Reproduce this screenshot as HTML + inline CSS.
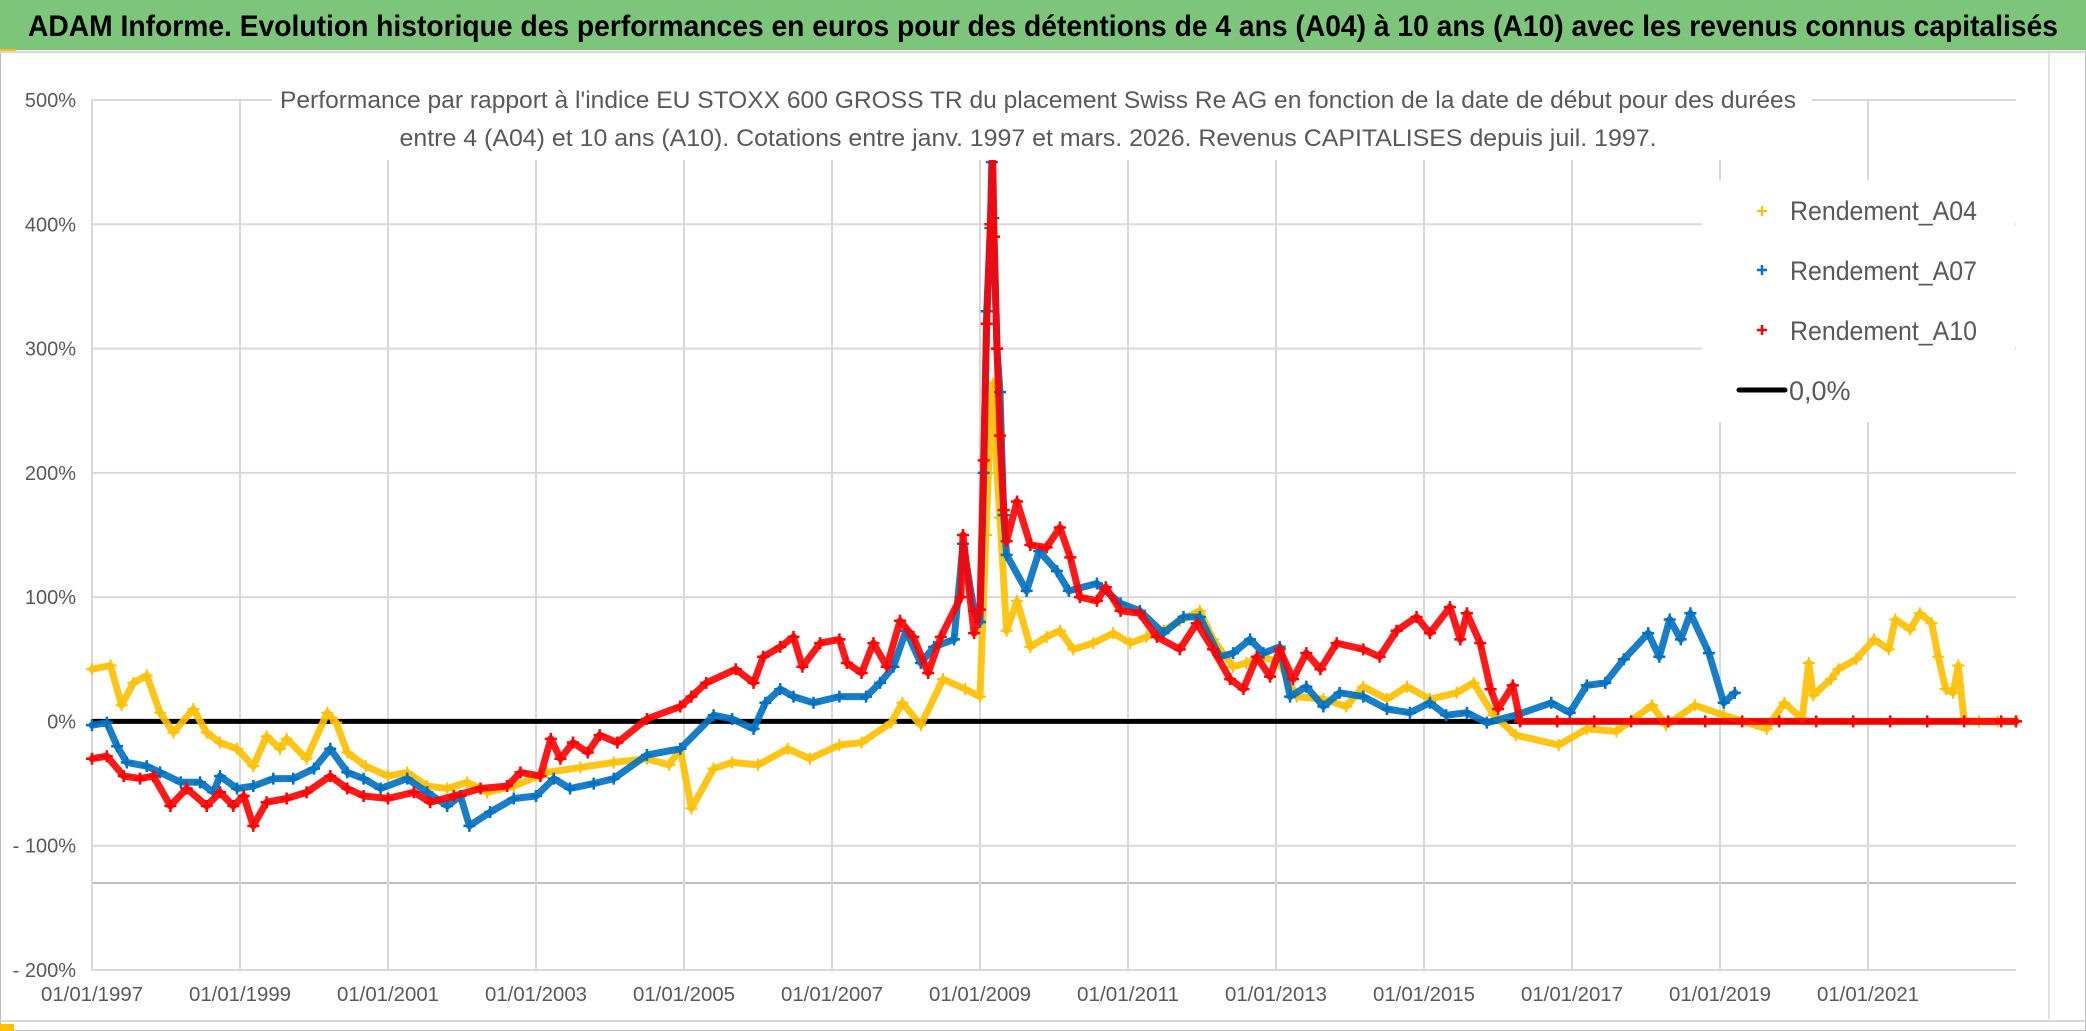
<!DOCTYPE html>
<html><head><meta charset="utf-8">
<style>
html,body{margin:0;padding:0;background:#fff;}
svg{display:block;font-family:"Liberation Sans",sans-serif;}
</style></head>
<body>
<svg id="chart" width="2086" height="1031" viewBox="0 0 2086 1031" xmlns="http://www.w3.org/2000/svg">
  <rect x="0.5" y="0.5" width="2085" height="1030" fill="#fff" stroke="#bfbfbf"/>
  <rect x="0" y="0" width="2086" height="50" fill="#7cc57a"/>
  <rect x="0" y="49" width="16" height="3" fill="#ffc000"/>
  <line x1="0" y1="52" x2="2086" y2="52" stroke="#d9d9d9" stroke-width="2"/>
  <text x="1043" y="36" text-anchor="middle" font-size="30" font-weight="bold" fill="#000" textLength="2030" lengthAdjust="spacingAndGlyphs">ADAM Informe. Evolution historique des performances en euros pour des détentions de 4 ans (A04) à 10 ans (A10) avec les revenus connus capitalisés</text>
  <line x1="2049" y1="53" x2="2049" y2="1019" stroke="#d9d9d9" stroke-width="1.5"/>
  <line x1="0" y1="1021" x2="2086" y2="1021" stroke="#d9d9d9" stroke-width="2"/>
  <rect x="0" y="1024" width="14" height="7" fill="#ffc000"/>
  <g id="grid"></g>
  <g id="axes"></g>
  <g id="series"></g>
  <rect x="272" y="84" width="1540" height="76" fill="#fff"/>
  <text x="1038" y="108" text-anchor="middle" font-size="24" fill="#595959" textLength="1516" lengthAdjust="spacingAndGlyphs">Performance par rapport à l'indice EU STOXX 600 GROSS TR  du placement Swiss Re AG en fonction de la date de début pour des durées</text>
  <text x="1028" y="146" text-anchor="middle" font-size="24" fill="#595959" textLength="1257" lengthAdjust="spacingAndGlyphs">entre 4 (A04) et 10 ans (A10). Cotations entre janv. 1997 et mars. 2026. Revenus CAPITALISES depuis juil. 1997.</text>
  <g>
    <rect x="1702" y="180" width="313" height="242" fill="#fff"/>
    <g>
      <path d="M1757 211h10M1762 206v10" stroke="#ffc000" stroke-width="2"/>
      <text x="1790" y="220" font-size="27" fill="#595959" textLength="187" lengthAdjust="spacingAndGlyphs">Rendement_A04</text>
    </g>
    <g>
      <path d="M1757 270h10M1762 265v10" stroke="#0070c0" stroke-width="2.5"/>
      <text x="1790" y="280" font-size="27" fill="#595959" textLength="187" lengthAdjust="spacingAndGlyphs">Rendement_A07</text>
    </g>
    <g>
      <path d="M1757 330h10M1762 325v10" stroke="#ff0000" stroke-width="2.5"/>
      <text x="1790" y="340" font-size="27" fill="#595959" textLength="187" lengthAdjust="spacingAndGlyphs">Rendement_A10</text>
    </g>
    <g>
      <line x1="1739" y1="390" x2="1785" y2="390" stroke="#000" stroke-width="5" stroke-linecap="round"/>
      <text x="1789" y="400" font-size="27" fill="#595959">0,0%</text>
    </g>
  </g>
</svg>
<script>
const yTicks = [500, 400, 300, 200, 100, 0, -100, -200];
const yTickLabels = ["500%", "400%", "300%", "200%", "100%", "0%", "- 100%", "- 200%"];
const xTicks = [1997, 1999, 2001, 2003, 2005, 2007, 2009, 2011, 2013, 2015, 2017, 2019, 2021];
const xTickLabels = ["01/01/1997","01/01/1999","01/01/2001","01/01/2003","01/01/2005","01/01/2007","01/01/2009","01/01/2011","01/01/2013","01/01/2015","01/01/2017","01/01/2019","01/01/2021"];
const zeroValue = 0;
const a04Years = [1997.0,1997.25,1997.4,1997.56,1997.74,1997.92,1998.1,1998.37,1998.55,1998.73,1998.96,1999.18,1999.36,1999.54,1999.63,1999.9,2000.18,2000.3,2000.45,2000.7,2001.0,2001.26,2001.53,2001.8,2002.07,2002.34,2002.7,2003.15,2003.6,2004.05,2004.5,2004.8,2004.95,2005.1,2005.4,2005.65,2006.0,2006.4,2006.7,2007.1,2007.4,2007.8,2007.95,2008.2,2008.5,2008.8,2009.0,2009.08,2009.14,2009.18,2009.23,2009.27,2009.36,2009.5,2009.68,2009.9,2010.08,2010.26,2010.53,2010.8,2011.03,2011.25,2011.48,2011.7,2011.97,2012.15,2012.42,2012.6,2012.83,2013.05,2013.28,2013.64,2013.95,2014.18,2014.5,2014.77,2015.08,2015.44,2015.67,2015.94,2016.24,2016.82,2017.2,2017.6,2018.08,2018.27,2018.66,2019.05,2019.63,2019.87,2020.11,2020.2,2020.26,2020.5,2020.6,2020.84,2021.08,2021.28,2021.37,2021.57,2021.7,2021.86,2021.95,2022.05,2022.15,2022.22,2022.3,2022.5,2022.75,2023.0];
const a04Values = [42,45,13,31,37,7,-9,10,-9,-17,-22,-36,-12,-22,-14,-30,7,-1,-25,-36,-44,-41,-52,-54,-49,-57,-52,-41,-37,-33,-30,-35,-22,-70,-38,-33,-35,-22,-30,-19,-17,-1,15,-3,34,26,20,150,240,272,200,164,73,97,60,68,73,58,63,71,63,68,73,81,89,66,44,47,52,47,20,18,12,28,18,28,18,23,31,5,-11,-19,-6,-8,13,-3,13,5,-6,15,2,47,21,34,42,50,66,58,82,74,87,79,52,26,23,45,0,0,0,0];
const a07Years = [1997.0,1997.2,1997.34,1997.47,1997.74,1997.92,1998.2,1998.46,1998.64,1998.73,1998.96,1999.18,1999.45,1999.72,2000.0,2000.22,2000.45,2000.67,2000.9,2001.26,2001.53,2001.8,2001.98,2002.1,2002.38,2002.7,2003.0,2003.24,2003.46,2003.78,2004.05,2004.5,2004.95,2005.4,2005.65,2005.94,2006.1,2006.3,2006.48,2006.75,2007.1,2007.46,2007.65,2007.83,2008.0,2008.2,2008.38,2008.65,2008.77,2008.92,2009.0,2009.05,2009.09,2009.14,2009.16,2009.18,2009.23,2009.27,2009.32,2009.36,2009.63,2009.8,2010.04,2010.2,2010.58,2010.9,2011.16,2011.48,2011.75,2011.97,2012.24,2012.42,2012.65,2012.83,2013.05,2013.19,2013.41,2013.64,2013.86,2014.18,2014.5,2014.81,2015.08,2015.3,2015.58,2015.85,2016.24,2016.72,2016.97,2017.2,2017.45,2017.7,2018.03,2018.18,2018.32,2018.47,2018.6,2018.85,2019.05,2019.2];
const a07Values = [-3,-1,-20,-33,-36,-41,-49,-49,-57,-44,-54,-52,-46,-46,-38,-22,-41,-46,-54,-46,-57,-68,-60,-84,-73,-62,-60,-46,-54,-50,-46,-27,-22,5,2,-6,15,26,20,15,20,20,31,44,73,47,60,66,143,89,80,200,330,397,450,405,300,265,166,134,105,137,121,105,111,95,89,71,84,84,52,55,66,55,60,20,28,12,23,20,10,7,15,5,7,-1,5,15,7,29,31,50,71,52,82,66,87,55,15,23];
const a10Years = [1997.0,1997.2,1997.43,1997.65,1997.83,1998.06,1998.28,1998.55,1998.73,1998.91,1999.05,1999.18,1999.36,1999.63,1999.9,2000.22,2000.45,2000.67,2001.0,2001.35,2001.57,2001.89,2002.25,2002.61,2002.79,2003.06,2003.2,2003.33,2003.5,2003.7,2003.86,2004.1,2004.5,2004.95,2005.1,2005.3,2005.7,2005.94,2006.07,2006.3,2006.48,2006.6,2006.84,2007.1,2007.2,2007.4,2007.56,2007.74,2007.92,2008.1,2008.3,2008.47,2008.74,2008.77,2008.92,2009.0,2009.05,2009.09,2009.14,2009.17,2009.19,2009.23,2009.27,2009.32,2009.36,2009.5,2009.68,2009.9,2010.08,2010.22,2010.35,2010.58,2010.7,2010.9,2011.16,2011.39,2011.7,2011.93,2012.15,2012.38,2012.56,2012.74,2012.92,2013.05,2013.23,2013.41,2013.6,2013.82,2014.18,2014.4,2014.63,2014.9,2015.08,2015.35,2015.49,2015.58,2015.76,2015.9,2016.0,2016.2,2016.3,2016.8,2017.3,2017.8,2018.3,2018.8,2019.3,2019.8,2020.3,2020.8,2021.3,2021.8,2022.3,2022.8,2023.0];
const a10Values = [-30,-28,-44,-46,-44,-68,-54,-68,-57,-68,-60,-84,-65,-62,-57,-44,-54,-60,-62,-57,-65,-60,-54,-52,-41,-44,-14,-30,-17,-25,-11,-17,2,12,20,31,42,31,52,60,68,44,63,66,47,39,63,44,81,68,39,68,100,150,71,90,210,320,400,460,390,300,230,170,145,177,142,140,156,132,100,97,108,89,87,68,58,79,58,34,26,52,36,58,34,55,42,63,58,52,73,84,71,92,66,87,63,26,10,29,0,0,0,0,0,0,0,0,0,0,0,0,0,0,0];

const X0 = 92, X1 = 2016, XMIN = 1997, XMAX = 2023;
const Y0 = 970, Y1 = 100, YMIN = -200, YMAX = 500;
function xs(v){ return X0 + (v - XMIN) / (XMAX - XMIN) * (X1 - X0); }
function ys(v){ return Y0 - (v - YMIN) / (YMAX - YMIN) * (Y0 - Y1); }
const NS = "http://www.w3.org/2000/svg";
function mk(tag, attrs, parent){ const e = document.createElementNS(NS, tag); for (const k in attrs) e.setAttribute(k, attrs[k]); parent.appendChild(e); return e; }

const grid = document.getElementById('grid');
const axes = document.getElementById('axes');
const series = document.getElementById('series');

yTicks.forEach((t, i) => {
  const y = ys(t);
  const gl = mk('line', {x1: X0, x2: X1, y1: y, y2: y, stroke: '#d9d9d9', 'stroke-width': 2}, grid);
  
  
  const lb = mk('text', {x: 76, y: y + 7, 'text-anchor': 'end', 'font-size': 20, fill: '#595959'}, axes);
  lb.textContent = yTickLabels[i];
  
  
});
const extra = mk('line', {x1: X0, x2: X1, y1: ys(-130), y2: ys(-130), stroke: '#bfbfbf', 'stroke-width': 2}, grid);


xTicks.forEach((t, i) => {
  const x = xs(t);
  const gl = mk('line', {x1: x, x2: x, y1: Y1, y2: Y0, stroke: '#d9d9d9', 'stroke-width': 2}, grid);
  
  
  const lb = mk('text', {x: x, y: 1001, 'text-anchor': 'middle', 'font-size': 20, fill: '#595959', textLength: 102, lengthAdjust: 'spacingAndGlyphs'}, axes);
  lb.textContent = xTickLabels[i];
  
  
});

const zl = mk('line', {x1: X0, x2: X1, y1: ys(zeroValue), y2: ys(zeroValue), stroke: '#000', 'stroke-width': 5}, series);



function drawSeries(years, vals, color, name, sw){
  const g = mk('g', {}, series);
  
  
  const pts = years.map((yr, i) => xs(yr).toFixed(1) + ',' + ys(vals[i]).toFixed(1)).join(' ');
  const pl = mk('polyline', {points: pts, fill: 'none', stroke: color, 'stroke-width': 7, 'stroke-linejoin': 'round', 'stroke-linecap': 'round', opacity: 0.9}, g);
  
  
  years.forEach((yr, i) => {
    const x = xs(yr), y = ys(vals[i]);
    const p = mk('path', {d: `M${x-6} ${y}h12M${x} ${y-6}v12`, stroke: color, 'stroke-width': sw}, g);
    
    
  });
}
drawSeries(a04Years, a04Values, '#ffc000', 'series-a04', 2);
drawSeries(a07Years, a07Values, '#0070c0', 'series-a07', 2.5);
drawSeries(a10Years, a10Values, '#ff0000', 'series-a10', 2.5);
</script>
</body></html>
